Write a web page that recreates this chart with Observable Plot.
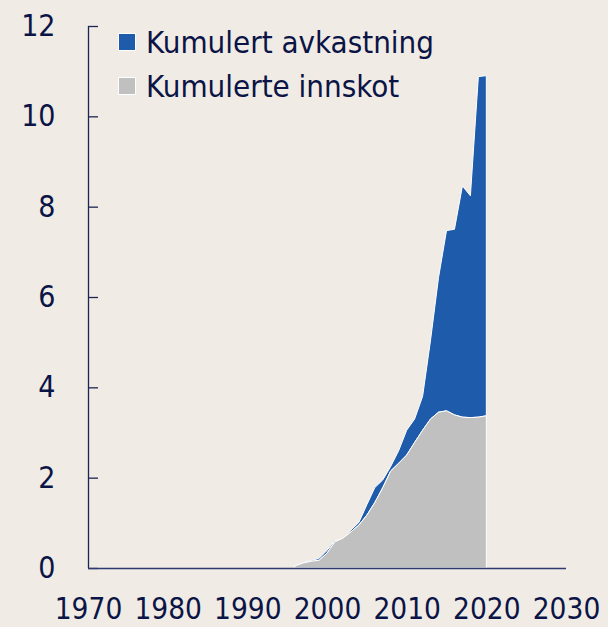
<!DOCTYPE html>
<html>
<head>
<meta charset="utf-8">
<script src="https://cdn.jsdelivr.net/npm/d3@7"></script>
<script src="https://cdn.jsdelivr.net/npm/@observablehq/plot@0.6"></script>
<style>
  html, body { margin: 0; padding: 0; background: #f0ebe4; }
  #wrap { position: relative; width: 608px; height: 627px; overflow: hidden;
    font-family: "DejaVu Sans Condensed", "DejaVu Sans", sans-serif; font-stretch: condensed; color: #0b1446; }
  #legend { position: absolute; left: 118px; top: 20px; font-size: 31px; line-height: 44px; }
  .row { display: flex; align-items: center; height: 44px; }
  .sw { width: 16px; height: 16px; border: 1px solid #ffffff; margin-right: 10px; box-sizing: content-box; }
</style>
</head>
<body>
<div id="wrap">
  <div id="chart"></div>
  <div id="legend"></div>
</div>
<script>
// Years (end of year)
const years = [1996,1997,1998,1999,2000,2001,2002,2003,2004,2005,2006,2007,2008,2009,2010,2011,2012,2013,2014,2015,2016,2017,2018,2019,2020];
// Kumulerte innskot (cumulative inflows), 1000 mrd. kroner
const inflows = [0.05,0.11,0.15,0.17,0.33,0.58,0.66,0.80,0.95,1.17,1.45,1.78,2.15,2.32,2.50,2.78,3.05,3.30,3.45,3.48,3.39,3.34,3.33,3.34,3.37];
// Kumulert avkastning (cumulative return), 1000 mrd. kroner
const returns = [0.00,0.01,0.02,0.04,0.06,0.03,-0.04,0.04,0.06,0.23,0.33,0.17,0.10,0.28,0.55,0.52,0.75,1.75,2.98,3.99,4.11,5.12,4.91,7.54,7.53];

const seriesNames = ["Kumulert avkastning", "Kumulerte innskot"];
const seriesColors = ["#1f5bab", "#c0c0c0"];
const xTicks = [1970,1980,1990,2000,2010,2020,2030];
const yTicks = [0,2,4,6,8,10,12];

const rows = years.map((y, i) => ({year: y, inflow: inflows[i], total: inflows[i] + returns[i]}));

const axisColor = "#1c2654";
const textColor = "#0b1446";
const font = "'DejaVu Sans Condensed', 'DejaVu Sans', sans-serif";

const chart = Plot.plot({
  width: 608,
  height: 627,
  marginLeft: 88,
  marginRight: 42,
  marginTop: 26,
  marginBottom: 59,
  style: {background: "transparent", fontFamily: font, fontSize: "30px", color: textColor, fontStretch: "condensed"},
  x: {domain: [1970, 2030], label: null},
  y: {domain: [0, 12], label: null},
  marks: [
    Plot.areaY(rows, {x: "year", y1: "inflow", y2: "total", fill: seriesColors[0], stroke: "#ffffff", strokeWidth: 1}),
    Plot.areaY(rows, {x: "year", y1: 0, y2: "inflow", fill: seriesColors[1], stroke: "#ffffff", strokeWidth: 1}),
    Plot.axisY({ticks: yTicks, tickSize: 10, dx: 10, text: null, label: null, stroke: axisColor, strokeWidth: 1.3}),
    Plot.axisY({ticks: yTicks, tickSize: 0, tickPadding: 33, fill: textColor, fontSize: 30, label: null}),
    Plot.axisX({ticks: xTicks, tickSize: 0, tickPadding: 30, tickFormat: d => String(d), fill: textColor, fontSize: 29.5, label: null}),
    Plot.ruleX([1970], {stroke: axisColor, strokeWidth: 1.3}),
    Plot.ruleY([0], {stroke: "#2e3a72", strokeWidth: 1.5})
  ]
});
document.getElementById("chart").appendChild(chart);

const legend = document.getElementById("legend");
seriesNames.forEach((name, i) => {
  const row = document.createElement("div");
  row.className = "row";
  const sw = document.createElement("div");
  sw.className = "sw";
  sw.style.background = seriesColors[i];
  const t = document.createElement("span");
  t.textContent = name;
  row.appendChild(sw);
  row.appendChild(t);
  legend.appendChild(row);
});
</script>
</body>
</html>
